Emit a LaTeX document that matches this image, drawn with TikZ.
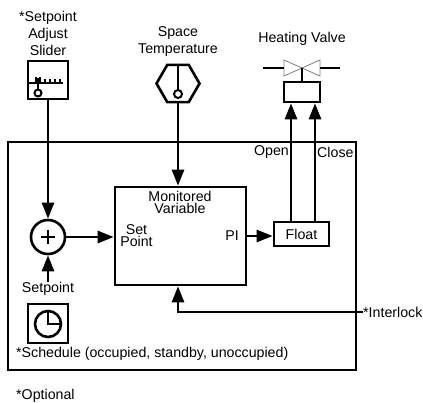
\documentclass[tikz,border=0pt]{standalone}
\usepackage{fontspec}
\setmainfont{Liberation Sans}
\usetikzlibrary{arrows.meta,shapes.geometric}
\begin{document}
\begin{tikzpicture}[x=1pt,y=-1pt,
  font=\fontsize{14.2}{17}\selectfont,
  thk/.style={line width=2.6pt},
  arr/.style={thk,-{Triangle[length=16pt,width=12pt]}},
  box/.style={draw,thk,inner sep=0pt},
  lbl/.style={inner sep=0pt,align=center},
  tight/.style={inner sep=0pt,align=center,font=\fontsize{14.2}{11.5}\selectfont}]
\useasboundingbox (0,0) rectangle (423,402);
% outer box
\node[box,minimum width=348,minimum height=228] (outer) at (182,256) {};
% slider
\node[lbl] (slidertxt) at (48,33) {*Setpoint\\Adjust\\Slider};
\node[box,minimum width=40,minimum height=38] (slider) at (48,80) {};
\draw[line width=2pt] (28,83) -- (63,83);
\foreach \xx/\hh in {36/6,40/6,45/4,50/4,55/4,60/4}{\draw[line width=1.3pt] (\xx,83) -- (\xx,83-\hh);}
\draw[line width=2pt] (38,78) -- (38,90);
\node[draw,circle,line width=2pt,minimum size=7pt,inner sep=0pt,fill=white] (knob) at (38,93) {};
% space temperature
\node[lbl] (sptxt) at (178,42) {Space\\Temperature};
\node[draw,thk,regular polygon,regular polygon sides=6,minimum size=43pt,inner sep=0pt] (hex) at (178,83.5) {};
\node[draw,circle,line width=2pt,minimum size=8pt,inner sep=0pt] (bulb) at (178,94) {};
\draw[line width=2pt] (hex.north) -- (bulb.north);
% heating valve
\node[lbl] (hvtxt) at (302,39) {Heating Valve};
\node[box,minimum width=36,minimum height=20] (act) at (302,92) {};
\coordinate (vc) at (302,68);
\draw[gray,line width=0.8pt] (284,60) -- (284,76) -- (vc) -- cycle;
\draw[gray,line width=0.8pt] (320,60) -- (320,76) -- (vc) -- cycle;
\draw[thk] (263,68) -- (284,68);
\draw[thk] (320,68) -- (340,68);
\draw[line width=2pt] (vc) -- (act.north);
% controller
\node[box,minimum width=131,minimum height=98] (ctrl) at (180.5,236) {};
\node[tight] (mv) at (180,202.5) {Monitored\\Variable};
\node[tight] (sp) at (136.5,235.5) {Set\\Point};
\node[lbl,anchor=east] (pi) at (239,235.5) {PI};
% sum
\node[draw,circle,thk,minimum size=34pt,inner sep=0pt] (sum) at (48,237) {};
\draw[line width=2pt] (41,237) -- (55,237) (48,230) -- (48,244);
\node[lbl] (sptlbl) at (48,289) {Setpoint};
% float
\node[box,minimum width=55,minimum height=24] (float) at (301.5,234) {Float};
\node[lbl,anchor=east] (open) at (289,152) {Open};
\node[lbl,anchor=west] (close) at (317,152) {Close};
% schedule
\node[box,minimum width=40,minimum height=39] (clock) at (48,323.5) {};
\node[draw,circle,thk,minimum size=26pt,inner sep=0pt] (face) at (48,324) {};
\draw[thk] (face.north) -- (face.center) -- (face.east);
\node[lbl,anchor=west] (sched) at (16,354) {*Schedule (occupied, standby, unoccupied)};
\node[lbl,anchor=west] (opt) at (16,396) {*Optional};
% interlock
\node[lbl,anchor=west] (ilk) at (363,312) {*Interlock};
\coordinate (ilkbend) at (178,312);
% connectors
\draw[arr] (48,99) -- (sum.north);
\draw[arr] (sptlbl.north) -- (sum.south);
\draw[arr] (sum.east) -- (ctrl.west |- sum.east);
\draw[arr] (178,102) -- (ctrl.north -| 178,0);
\draw[arr] (ctrl.east |- 0,236) -- (float.west |- 0,236);
\draw[arr] (float.north -| 291,0) -- (act.south -| 291,0);
\draw[arr] (float.north -| 315,0) -- (act.south -| 315,0);
\draw[arr] (ilk.west) -- (ilkbend) -- (ctrl.south -| ilkbend);
\end{tikzpicture}
\end{document}
